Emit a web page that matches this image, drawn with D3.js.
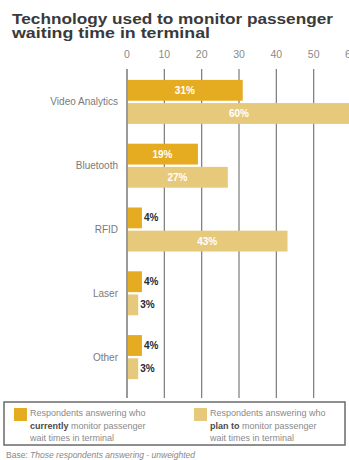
<!DOCTYPE html>
<html>
  <head>
    <meta charset="utf-8">
    <script src="https://cdn.jsdelivr.net/npm/d3@7/dist/d3.min.js"></script>
    <style>
      body{
        margin: 0;
        padding: 0;
        background-color: white;
      }
      svg text{
        font-family: "Liberation Sans Narrow", "Liberation Sans", Arial, sans-serif;
      }
    </style>
  </head>
  <body>
    <div id="chart"></div>
    <script>
      // data
      var categories = ["Video Analytics", "Bluetooth", "RFID", "Laser", "Other"];
      var currentValues = [31, 19, 4, 4, 4];
      var planValues = [60, 27, 43, 3, 3];
      var tickValues = [0, 10, 20, 30, 40, 50, 60];
      var seriesKeys = ["current", "plan"];
      var titleLines = ["Technology used to monitor passenger", "waiting time in terminal"];

      var colors = {current: "#e5ac21", plan: "#e7c97c"};

      var width = 349, height = 460;
      var svg = d3.select("#chart").append("svg")
        .attr("width", width)
        .attr("height", height);

      var x = d3.scaleLinear().domain([0, 60]).range([127, 351]);
      var y = d3.scaleBand().domain(categories).range([70, 389])
        .paddingInner(0.31).paddingOuter(0.155);
      var ySub = d3.scaleBand().domain(seriesKeys).range([0, y.bandwidth()]).paddingInner(0.1);

      // title
      svg.append("g").selectAll("text")
        .data(titleLines)
        .join("text")
        .attr("x", 12)
        .attr("y", function(d, i){ return 24 + i * 14; })
        .attr("textLength", function(d, i){ return i == 0 ? 321 : 198; })
        .attr("lengthAdjust", "spacingAndGlyphs")
        .style("font-family", "'Liberation Sans', Arial, sans-serif")
        .style("font-weight", "bold")
        .style("font-size", "14.5px")
        .style("fill", "#3a3a3a")
        .text(function(d){ return d; });

      // tick labels and grid
      svg.append("g").selectAll("text")
        .data(tickValues.slice(0, 6))
        .join("text")
        .attr("x", function(d){ return x(d); })
        .attr("y", 58)
        .attr("text-anchor", "middle")
        .style("font-size", "10.5px")
        .style("fill", "#8a8a8a")
        .text(function(d){ return d; });

      // last tick label is cut by the edge in the picture
      svg.append("text")
        .attr("x", x(60) - 6)
        .attr("y", 58)
        .style("font-size", "10.5px")
        .style("fill", "#8a8a8a")
        .text(tickValues[6]);

      svg.append("g").selectAll("line")
        .data(tickValues)
        .join("line")
        .attr("x1", function(d){ return x(d); })
        .attr("x2", function(d){ return x(d); })
        .attr("y1", 69)
        .attr("y2", 398)
        .style("stroke", function(d){ return d == 0 ? "#9a9a9a" : "#7a7a7a"; })
        .style("stroke-width", function(d){ return d == 0 ? 2 : 1.2; });

      // bars
      var rows = categories.map(function(c, i){
        return {cat: c, values: [
          {key: "current", value: currentValues[i]},
          {key: "plan", value: planValues[i]}
        ]};
      });

      var group = svg.append("g").selectAll("g")
        .data(rows)
        .join("g")
        .attr("transform", function(d){ return "translate(0," + y(d.cat) + ")"; });

      group.append("text")
        .attr("x", 118)
        .attr("y", y.bandwidth() / 2 + 3.5)
        .attr("text-anchor", "end")
        .style("font-size", "10px")
        .style("fill", "#7a7a7a")
        .text(function(d){ return d.cat; });

      group.selectAll("rect")
        .data(function(d){ return d.values; })
        .join("rect")
        .attr("x", x(0) + 1)
        .attr("y", function(d){ return ySub(d.key); })
        .attr("width", function(d){ return x(d.value) - x(0) - 1; })
        .attr("height", ySub.bandwidth())
        .style("fill", function(d){ return colors[d.key]; });

      group.selectAll("text.val")
        .data(function(d){ return d.values; })
        .join("text")
        .attr("class", "val")
        .attr("x", function(d){ return d.value < 10 ? x(d.value) + 2 : x(0) + (x(d.value) - x(0)) / 2; })
        .attr("y", function(d){ return ySub(d.key) + ySub.bandwidth() / 2 + 3.5; })
        .attr("text-anchor", function(d){ return d.value < 10 ? "start" : "middle"; })
        .style("font-family", "'Liberation Sans', Arial, sans-serif")
        .style("font-weight", "bold")
        .style("font-size", "10px")
        .style("fill", function(d){ return d.value < 10 ? "#2a2a2a" : "#ffffff"; })
        .text(function(d){ return d.value + "%"; });

      // legend
      svg.append("rect")
        .attr("x", 4).attr("y", 402)
        .attr("width", 341).attr("height", 43)
        .style("fill", "none")
        .style("stroke", "#6a6a6a")
        .style("stroke-width", 1.5);

      var legendItems = [
        {key: "current", x: 14, bold: "currently"},
        {key: "plan", x: 194, bold: "plan to"}
      ];
      var legend = svg.append("g").selectAll("g")
        .data(legendItems)
        .join("g")
        .attr("transform", function(d){ return "translate(" + d.x + ",0)"; });

      legend.append("rect")
        .attr("x", 0).attr("y", 408)
        .attr("width", 13).attr("height", 13)
        .style("fill", function(d){ return colors[d.key]; });

      var lt = legend.append("text")
        .style("font-size", "9px")
        .style("fill", "#8a8a8a");
      lt.append("tspan").attr("x", 16).attr("y", 416).text("Respondents answering who");
      lt.append("tspan").attr("x", 16).attr("y", 428.5)
        .style("font-weight", "bold").style("fill", "#4a4a4a")
        .text(function(d){ return d.bold; });
      lt.append("tspan").text(" monitor passenger");
      lt.append("tspan").attr("x", 16).attr("y", 441).text("wait times in terminal");

      var base = svg.append("text")
        .attr("x", 6).attr("y", 458)
        .style("font-size", "8.5px")
        .style("fill", "#888");
      base.append("tspan").text("Base: ");
      base.append("tspan").style("font-style", "italic").text("Those respondents answering - unweighted");
    </script>
  </body>
</html>
